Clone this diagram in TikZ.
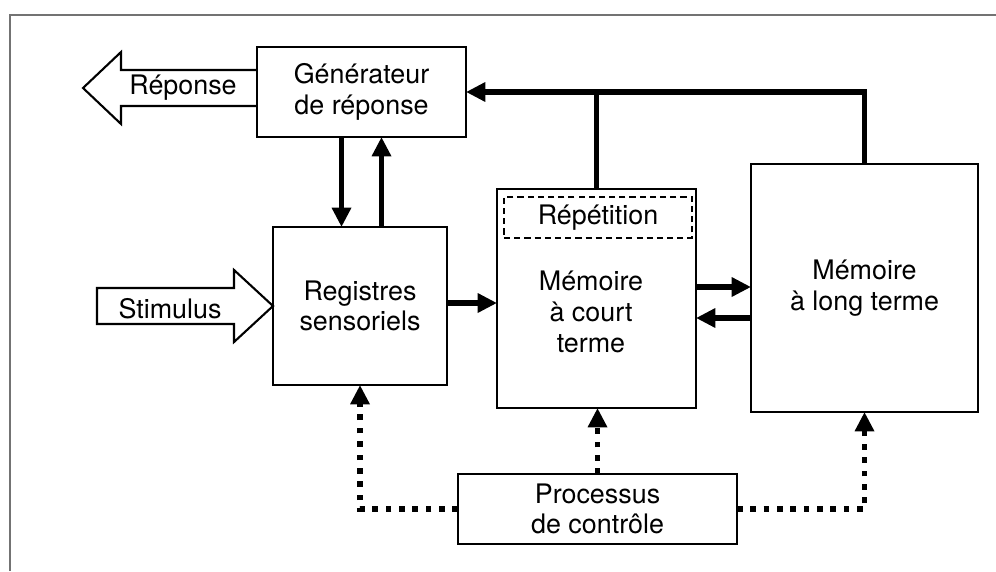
\documentclass[tikz,border=0pt]{standalone}
\usepackage{fontspec}
\setmainfont{TeX Gyre Heros}
\usetikzlibrary{arrows.meta}

\begin{document}
\begin{tikzpicture}[
  x=0.02cm, y=-0.02cm,
  >={Triangle[length=11pt,width=10.5pt]},
  font=\fontsize{15.3}{17.5}\selectfont,
  box/.style={draw,line width=1.2pt,inner sep=0pt,outer sep=0pt,align=center},
  flow/.style={->,line width=3pt},
  feed/.style={line width=3pt},
  ctrl/.style={->,line width=3.2pt,dash pattern=on 3.2pt off 4.4pt},
  hollow/.style={draw,line width=1.2pt,line join=miter},
  frame/.style={draw=black!55,line width=1.2pt}
]
  \useasboundingbox (0,0) rectangle (996,571);
  \draw[frame] (10,571) -- (10,15) -- (996,15);

  \node[box,minimum width=4.18cm,minimum height=1.8cm] (gen) at (361.5,92) {Générateur\\de réponse};
  \node[box,minimum width=3.48cm,minimum height=3.16cm] (reg) at (360,306) {Registres\\sensoriels};
  \node[box,minimum width=3.98cm,minimum height=4.38cm] (mct) at (596.5,298.5) {};
  \node[box,line width=1pt,dash pattern=on 3.5pt off 2.3pt,minimum width=3.76cm,minimum height=0.82cm] (repet) at (598,217.5) {Répétition};
  \node[align=center] (mcttext) at (591,312) {Mémoire\\à court\\terme};
  \node[box,minimum width=4.54cm,minimum height=4.96cm] (mlt) at (864.5,288) {Mémoire\\à long terme};
  \node[box,minimum width=5.58cm,minimum height=1.4cm] (proc) at (597.5,509) {Processus\\de contrôle};

  % open arrows in and out
  \node (stim) at (170,309) {Stimulus};
  \draw[hollow] (reg.west) -- ++(-39,-36) -- ++(0,18) -- ++(-137,0) -- ++(0,36) -- ++(137,0) -- ++(0,18) -- cycle;
  \node (reponse) at (183,88) {Réponse};
  \coordinate (rtail) at ([yshift=0.08cm]gen.west);
  \draw[hollow] (rtail) ++(0,-18) -- ++(-136,0) -- ++(0,-18) -- ++(-38,36) -- ++(38,36) -- ++(0,-18) -- ++(136,0);

  \draw[flow] ([xshift=-0.4cm]gen.south) -- ([xshift=-0.4cm]gen.south |- reg.north);
  \draw[flow] ([xshift=0.4cm]gen.south |- reg.north) -- ([xshift=0.4cm]gen.south);
  \draw[flow] ([yshift=0.06cm]reg.east) -- ([yshift=0.06cm]reg.east -| mct.west);
  \draw[flow] ([yshift=0.23cm]mct.east) -- ([yshift=0.23cm]mct.east -| mlt.west);
  \draw[flow] ([yshift=-0.39cm]mct.east -| mlt.west) -- ([yshift=-0.39cm]mct.east);
  \draw[flow] (mlt.north) |- (gen.east);
  \draw[feed] (mct.north) -- (mct.north |- gen.east);

  \foreach \side/\target in {west/reg,east/mlt}
    \draw[ctrl] (proc.\side) -| (\target.south);
  \draw[ctrl] (proc.north) -- (proc.north |- mct.south);
\end{tikzpicture}
\end{document}
